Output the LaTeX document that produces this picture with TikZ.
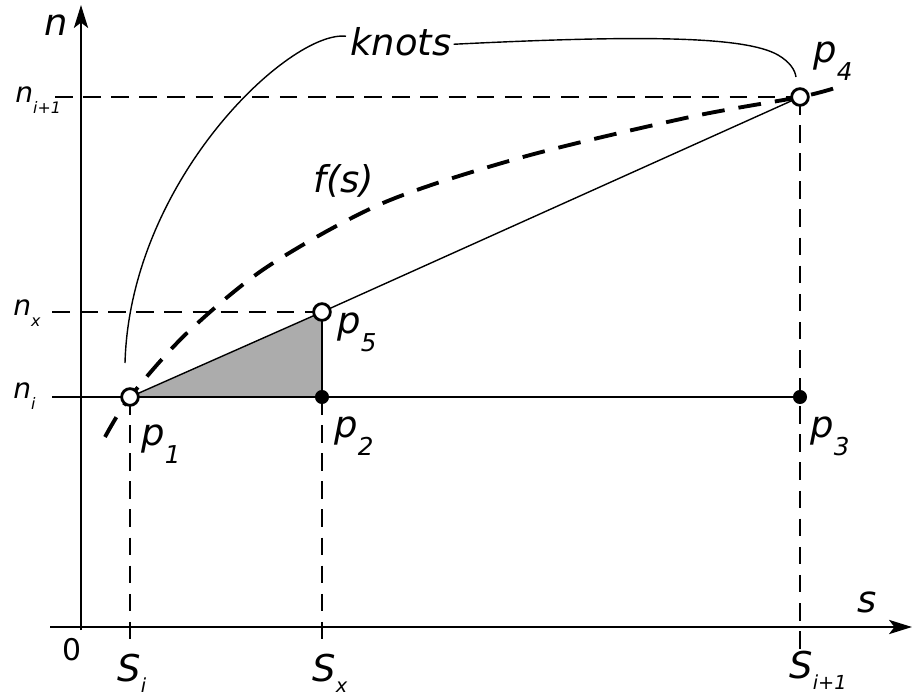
\documentclass[tikz,border=0pt]{standalone}
\usepackage{fontspec}
\setmainfont{DejaVu Sans}
\usetikzlibrary{arrows.meta}
\newcommand\psub[2]{#1\raisebox{-0.5em}{\fontsize{14}{14}\selectfont #2}}
\newcommand\nsub[2]{#1\raisebox{-0.4em}{\fontsize{9}{9}\selectfont #2}}
\newcommand\ssub[2]{#1\raisebox{-0.3em}{\fontsize{11}{11}\selectfont #2}}
\tikzset{
  axis/.style={line width=1.6pt, -{Stealth[length=13pt,width=8pt,inset=3pt]}},
  guide/.style={line width=1pt, dash pattern=on 10pt off 6pt},
  thinline/.style={line width=0.8pt},
  fcurve/.style={line width=2.2pt, dash pattern=on 13pt off 8pt},
  opendot/.style={circle, draw, fill=white, line width=1.6pt, minimum size=9.5pt, inner sep=0pt},
  soliddot/.style={circle, fill=black, minimum size=8pt, inner sep=0pt},
  lbl/.style={inner sep=0pt, font=\fontsize{21}{25}\selectfont\itshape},
  nlbl/.style={inner sep=0pt, font=\fontsize{16}{19}\selectfont\itshape},
}
\begin{document}
\begin{tikzpicture}[x=0.02cm, y=-0.02cm]
  \useasboundingbox (0,0) rectangle (914,700);
  % points of the segment
  \coordinate (P1) at (130,397);
  \coordinate (P2) at (322,397);
  \coordinate (P3) at (800,397);
  \coordinate (P4) at (800,97);
  \coordinate (P5) at (322,312);
  % axes
  \coordinate (O) at (81,630);
  \coordinate (ntop) at (81,5);
  \coordinate (sleft) at (50,627);
  \coordinate (sright) at (912,627);
  % ends of the guide lines
  \coordinate (nifoot) at (52,397);
  \coordinate (nxfoot) at (52,312);
  \coordinate (nnfoot) at (55,97);
  \coordinate (sifoot) at (130,650);
  \coordinate (sxfoot) at (322,650);
  \coordinate (snfoot) at (800,650);
  \coordinate (kleft) at (125,363);
  \coordinate (kright) at (796,77);

  \fill[gray!65] (P1) -- (P5) -- (P2) -- cycle;
  \draw[axis] (O) -- (ntop);
  \draw[axis] (sleft) -- (sright);
  \draw[thinline] (nifoot) -- (P3);
  \draw[guide] (nxfoot) -- (P5);
  \draw[guide] (nnfoot) -- (P4);
  \draw[guide] (P1) -- (sifoot);
  \draw[guide] (P2) -- (sxfoot);
  \draw[guide] (P4) -- (snfoot);
  \draw[thinline] (P2) -- (P5);
  \draw[thinline] (P1) -- (P5) -- (P4);
  \draw[fcurve] plot[smooth] coordinates {(105,437) (P1) (187,333) (267,267)
    (383,203) (523,157) (690,117) (P4) (835,88)};

  % knots
  \node[lbl, anchor=base west] (knots) at (350,55) {knots};
  \draw[thinline] ([shift={(-4,-5)}]knots.west) .. controls (290,30) and (130,180) .. (kleft);
  \draw[thinline] ([shift={(2,3)}]knots.east) .. controls (640,35) and (745,36) .. (778,55)
    .. controls (790,62) and (795,70) .. (kright);

  \node[opendot] (p1) at (P1) {};
  \node[soliddot] (p2) at (P2) {};
  \node[soliddot] (p3) at (P3) {};
  \node[opendot] (p4) at (P4) {};
  \node[opendot] (p5) at (P5) {};

  \node[lbl, anchor=base west] (lp1) at (141,445) {\psub{p}{1}};
  \node[lbl, anchor=base west] (lp2) at (334,437) {\psub{p}{2}};
  \node[lbl, anchor=base west] (lp3) at (810,437) {\psub{p}{3}};
  \node[lbl, anchor=base west] (lp4) at (813,62) {\psub{p}{4}};
  \node[lbl, anchor=base west] (lp5) at (337,333) {\psub{p}{5}};
  \node[lbl, anchor=base west] (fs) at (313,192) {f(s)};

  \node[lbl, anchor=base west] (nax) at (44,35) {n};
  \node[lbl, anchor=base west] (sax) at (857,612) {s};
  \node[inner sep=0pt, font=\fontsize{17}{20}\selectfont] (zero) at (72,650) {0};

  \node[nlbl, anchor=base west] (ni) at (13,398) {\nsub{n}{i}};
  \node[nlbl, anchor=base west] (nx) at (13,315) {\nsub{n}{x}};
  \node[nlbl, anchor=base west] (nn) at (15,102) {\nsub{n}{i+1}};

  \node[lbl, anchor=base west] (si) at (117,681) {\ssub{S}{i}};
  \node[lbl, anchor=base west] (sx) at (312,681) {\ssub{S}{x}};
  \node[lbl, anchor=base west] (sn) at (789,678) {\ssub{S}{i+1}};
\end{tikzpicture}
\end{document}
